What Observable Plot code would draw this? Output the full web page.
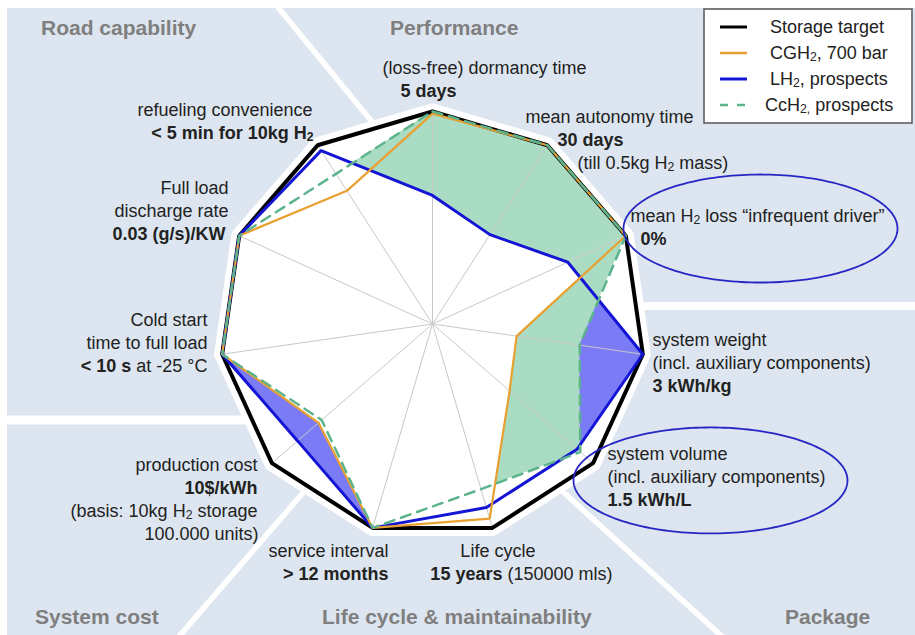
<!DOCTYPE html>
<html><head><meta charset="utf-8">
<script src="https://cdn.jsdelivr.net/npm/d3@7"></script>
<script src="https://cdn.jsdelivr.net/npm/@observablehq/plot@0.6"></script>
<style>
body{margin:0;background:#fff;}
#wrap{position:relative;width:915px;height:635px;font-family:"Liberation Sans",Arial,Helvetica,sans-serif;}
#wrap > svg{position:absolute;left:0;top:0;}
</style></head><body><div id="wrap"></div>
<script>
// ---------------- DATA ----------------
const axisKeys = ["dormancy","autonomy","h2loss","weight","volume","lifecycle","service","cost","coldstart","discharge","refueling"];
const axisLabels = [
  ["(loss-free) dormancy time", "**5 days**"],
  ["mean autonomy time", "**30 days**", "(till 0.5kg H_{2} mass)"],
  ["mean H_{2} loss “infrequent driver”", "**0%**"],
  ["system weight", "(incl. auxiliary components)", "**3 kWh/kg**"],
  ["system volume", "(incl. auxiliary components)", "**1.5 kWh/L**"],
  ["Life cycle", "**15 years** (150000 mls)"],
  ["service interval", "**> 12 months**"],
  ["production cost", "**10$/kWh**", "(basis: 10kg H_{2} storage", "100.000 units)"],
  ["Cold start", "time to full load", "**< 10 s** at -25 °C"],
  ["Full load", "discharge rate", "**0.03 (g/s)/KW**"],
  ["refueling convenience", "**< 5 min for 10kg H_{2}**"]
];
const seriesNames = ["Storage target", "CGH_{2}, 700 bar", "LH_{2}, prospects", "CcH_{2,} prospects"];
const target = [1, 1, 1, 1, 1, 1, 1, 1, 1, 1, 1];
const cgh2   = [0.99, 1.0, 1.0, 0.40, 0.48, 0.955, 1.0, 0.71, 1.0, 1.0, 0.745];
const lh2    = [0.605, 0.50, 0.70, 1.0, 0.90, 0.90, 1.0, 0.84, 1.0, 1.0, 0.97];
const cch2   = [1.0, 1.0, 1.0, 0.70, 0.92, 0.81, 1.0, 0.69, 1.0, 1.0, 0.84];
const sections = ["Road capability", "Performance", "Package", "Life cycle & maintainability", "System cost"];
const highlighted = [2, 4];

// ---------------- LAYOUT / STYLE ----------------
const W = 915, H = 635, CX = 432, CY = 323.5, PX = 212.5;
const colors = {target: "#000", cgh2: "#e8a030", lh2: "#1414d4", cch2: "#5cb38c",
                greenFill: "#aadbc3", blueFill: "#7b7bf6", panel: "#dde6f0", spoke: "#c8c8c8",
                title: "#7f7f7f", text: "#222", ellipse: "#2626c4"};
const labelLayout = [
  {anchor: "start", dx: [-50, -32], dy: -43},
  {anchor: "start", dx: [-22, 10, 30], dy: -27.7},
  {anchor: "start", dx: [4.7, 14.7], dy: -19},
  {anchor: "start", dx: [9.7, 9.7, 9.7], dy: -13.7},
  {anchor: "start", dx: [14.4, 14.4, 14.4], dy: -8.7},
  {anchor: "start", dx: [-32, -62], dy: 23.6},
  {anchor: "end", dx: [15.9, 15.9], dy: 23.6},
  {anchor: "end", dx: [-14.4, -14.4, -14.4, -13.4], dy: 2.3},
  {anchor: "end", dx: [-14.7, -14.7, -14.7], dy: -33.7},
  {anchor: "end", dx: [-10.7, -10.7, -13.7], dy: -47.2},
  {anchor: "end", dx: [-5, -4], dy: -34.7}
];
const LINE = 23;
const ellipseLayout = {2: {ox: 134.7, oy: -7.2, rx: 137, ry: 54}, 4: {ox: 117.4, oy: 17.3, rx: 137, ry: 53}};
const sectionLayout = [[41, 35], [390, 35], [785, 624], [322, 624], [35, 624]];
const separators = [[272, 0, 382, 134, 5.5], [628, 306, 915, 306, 8], [0, 420, 256, 420, 9], [314, 480, 176, 640, 5.5], [550, 480, 726, 640, 5.5]];

// ---------------- GEOMETRY ----------------
const N = axisKeys.length, STEP = 360 / N;
const rad = (deg) => deg * Math.PI / 180;
const idx = d3.range(N);
const px = (vals) => (i) => vals[i] * Math.sin(rad(i * STEP));
const py = (vals) => (i) => vals[i] * Math.cos(rad(i * STEP));
const cross = (p, q) => p[0] * q[1] - p[1] * q[0];
function radial(vals, t) {
  t = ((t % 360) + 360) % 360;
  const i = Math.min(N - 1, Math.floor(t / STEP)), j = (i + 1) % N;
  const P = [vals[i] * Math.sin(rad(i * STEP)), vals[i] * Math.cos(rad(i * STEP))];
  const Q = [vals[j] * Math.sin(rad(j * STEP)), vals[j] * Math.cos(rad(j * STEP))];
  const u = [Math.sin(rad(t)), Math.cos(rad(t))];
  const d = [Q[0] - P[0], Q[1] - P[1]];
  return cross(P, d) / cross(u, d);
}
function band(fromAxis, toAxis, outer, inner) {
  let k = (toAxis - fromAxis + N) % N;
  const n = k * 300, pts = [];
  for (let s = 0; s <= n; s++) {
    const t = fromAxis * STEP + s * k * STEP / n;
    const o = outer(t), r = Math.min(inner(t), o);
    pts.push({t, o, r});
  }
  return pts;
}
const R = (v) => (t) => radial(v, t);
const Rmin = (a, b) => (t) => Math.min(radial(a, t), radial(b, t));
const greenBands = [band(9, 2, R(cch2), R(lh2)), band(2, 5, R(cch2), Rmin(lh2, cgh2))];
const blueBands = [band(2, 4, R(lh2), R(cch2)), band(6, 8, R(lh2), R(cgh2))];
const areaOpts = (fill) => ({
  x1: (d) => d.o * Math.sin(rad(d.t)), y1: (d) => d.o * Math.cos(rad(d.t)),
  x2: (d) => d.r * Math.sin(rad(d.t)), y2: (d) => d.r * Math.cos(rad(d.t)),
  fill, curve: "linear"
});

const labelRows = [];
axisLabels.forEach((lines, a) => lines.forEach((text, l) => {
  const L = labelLayout[a];
  labelRows.push({a, l, text, anchor: L.anchor,
    x: Math.sin(rad(a * STEP)) + L.dx[l] / PX,
    y: Math.cos(rad(a * STEP)) - (L.dy + l * LINE) / PX});
}));
const ellipsePts = [];
highlighted.forEach((a) => {
  const E = ellipseLayout[a];
  const cx = Math.sin(rad(a * STEP)) + E.ox / PX, cy = Math.cos(rad(a * STEP)) - E.oy / PX;
  for (let s = 0; s < 180; s++) {
    const f = s / 180 * 2 * Math.PI;
    ellipsePts.push({a, x: cx + E.rx / PX * Math.cos(f), y: cy + E.ry / PX * Math.sin(f)});
  }
});

// ---------------- RENDER ----------------
const NS = "http://www.w3.org/2000/svg";
function el(name, attrs, parent) {
  const e = document.createElementNS(NS, name);
  for (const k in attrs) e.setAttribute(k, attrs[k]);
  if (parent) parent.appendChild(e);
  return e;
}
function richify(textEl) {
  const s = textEl.textContent;
  if (!/\*\*|_\{/.test(s)) return;
  while (textEl.firstChild) textEl.removeChild(textEl.firstChild);
  let bold = false, buf = "", i = 0;
  const flush = () => { if (!buf) return; const ts = el("tspan", bold ? {"font-weight": "bold"} : {}, textEl); ts.textContent = buf; buf = ""; };
  while (i < s.length) {
    if (s.startsWith("**", i)) { flush(); bold = !bold; i += 2; }
    else if (s.startsWith("_{", i)) {
      flush();
      const j = s.indexOf("}", i);
      const at = {"baseline-shift": "-18%", "font-size": "68%"};
      if (bold) at["font-weight"] = "bold";
      const ts = el("tspan", at, textEl); ts.textContent = s.slice(i + 2, j);
      i = j + 1;
    } else { buf += s[i]; i++; }
  }
  flush();
}

const wrap = document.getElementById("wrap");
const bg = el("svg", {width: W, height: H, viewBox: `0 0 ${W} ${H}`}, wrap);
el("rect", {x: 7, y: 8, width: W - 7, height: H - 8, fill: colors.panel}, bg);
separators.forEach(([x1, y1, x2, y2, w]) => el("line", {x1, y1, x2, y2, stroke: "#fff", "stroke-width": w}, bg));
sections.forEach((s, k) => {
  const t = el("text", {x: sectionLayout[k][0], y: sectionLayout[k][1], "font-size": 21, "font-weight": "bold", fill: colors.title}, bg);
  t.textContent = s;
});
// legend (built from series arrays)
const leg = el("g", {}, bg);
el("rect", {x: 704, y: 9, width: 208, height: 114, fill: "#fff", stroke: "#555", "stroke-width": 1.5}, leg);
const legStyles = [[colors.target, 3, null], [colors.cgh2, 2.5, null], [colors.lh2, 3, null], [colors.cch2, 2.5, "8,9"]];
const legY = [27, 53, 79, 105], legX = [770, 770, 770, 765];
seriesNames.forEach((name, k) => {
  const [c, w, dash] = legStyles[k];
  const a = {x1: 720, x2: 747, y1: legY[k], y2: legY[k], stroke: c, "stroke-width": w};
  if (dash) a["stroke-dasharray"] = dash;
  el("line", a, leg);
  const t = el("text", {x: legX[k], y: legY[k], dy: "0.35em", "font-size": 18, fill: colors.text}, leg);
  t.textContent = name;
  richify(t);
});

const lineMark = (vals, stroke, w, extra = {}) =>
  Plot.line(idx, {x: px(vals), y: py(vals), curve: "linear-closed", stroke, strokeWidth: w, strokeLinejoin: "miter", ...extra});

const chart = Plot.plot({
  width: W, height: H, margin: 0,
  x: {domain: [-CX / PX, (W - CX) / PX], axis: null},
  y: {domain: [-(H - CY) / PX, CY / PX], axis: null},
  style: {background: "transparent", overflow: "visible", fontFamily: "'Liberation Sans', Arial, sans-serif"},
  marks: [
    // white halo around the chart
    Plot.line(idx, {x: px(target), y: py(target), curve: "linear-closed", fill: "#fff", stroke: "#fff", strokeWidth: 16, strokeLinejoin: "round"}),
    ...greenBands.map((b) => Plot.area(b, areaOpts(colors.greenFill))),
    ...blueBands.map((b) => Plot.area(b, areaOpts(colors.blueFill))),
    Plot.link(idx, {x1: 0, y1: 0, x2: px(target), y2: py(target), stroke: colors.spoke, strokeWidth: 1}),
    lineMark(target, colors.target, 4),
    lineMark(lh2, colors.lh2, 3),
    lineMark(cgh2, colors.cgh2, 2.2),
    lineMark(cch2, colors.cch2, 2.5, {strokeDasharray: "10,7"}),
    Plot.line(ellipsePts, {x: "x", y: "y", z: "a", curve: "linear-closed", stroke: colors.ellipse, strokeWidth: 1.8}),
    Plot.text(labelRows.filter((d) => d.anchor === "start"), {x: "x", y: "y", text: "text", textAnchor: "start", lineAnchor: "middle", fontSize: 18, fill: colors.text}),
    Plot.text(labelRows.filter((d) => d.anchor === "end"), {x: "x", y: "y", text: "text", textAnchor: "end", lineAnchor: "middle", fontSize: 18, fill: colors.text})
  ]
});
wrap.appendChild(chart);
chart.querySelectorAll("text").forEach(richify);
</script></body></html>
